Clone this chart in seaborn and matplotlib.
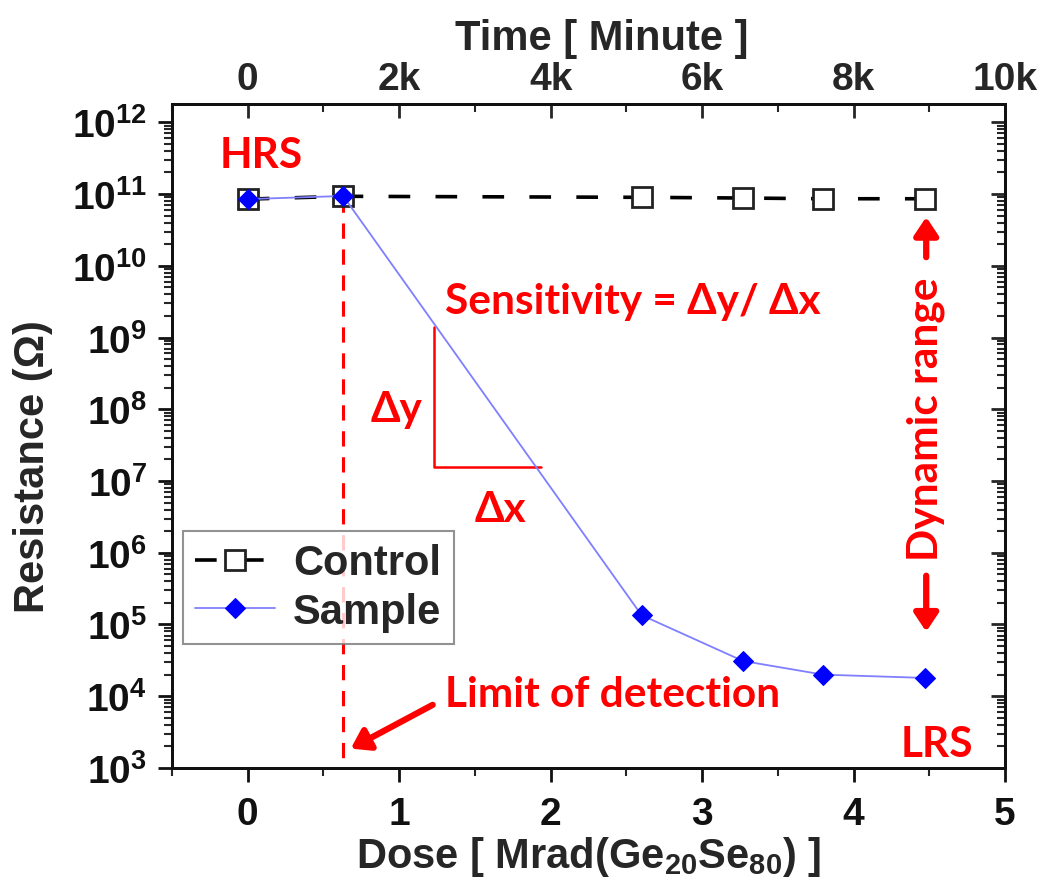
import numpy as np
import pandas as pd
import matplotlib
matplotlib.use("Agg")
import matplotlib.pyplot as plt
import matplotlib.ticker as mticker
import seaborn as sns

# ---- data ----
control_dose = [0, 0.63, 2.6, 3.27, 3.8, 4.47]
control_res = [8.5e10, 9.3e10, 9.0e10, 8.8e10, 8.6e10, 8.6e10]
sample_dose = [0, 0.63, 2.6, 3.27, 3.8, 4.47]
sample_res = [8.5e10, 9.4e10, 1.35e5, 3.1e4, 2.0e4, 1.8e4]
bottom_ticks = [0, 1, 2, 3, 4, 5]
top_ticks = [0, 2000, 4000, 6000, 8000, 10000]
top_labels = ["0", "2k", "4k", "6k", "8k", "10k"]

sns.set_theme(style="ticks")
plt.rcParams["font.family"] = ["Liberation Sans", "DejaVu Sans"]
plt.rcParams["font.weight"] = "bold"
plt.rcParams["mathtext.fontset"] = "custom"
plt.rcParams["mathtext.rm"] = "Liberation Sans:bold"
plt.rcParams["mathtext.bf"] = "Liberation Sans:bold"
plt.rcParams["mathtext.it"] = "Liberation Sans:bold:italic"
plt.rcParams["mathtext.sf"] = "Liberation Sans:bold"

TFS = 28   # tick labels
LFS = 30   # axis labels / legend
RFS = 30.5 # red annotations
RED = "#ff0000"
RFONT = ["Lato", "Open Sans", "DejaVu Sans"]

fig = plt.figure(figsize=(10.44, 8.95), dpi=100)
ax = fig.add_axes([0.1648, 0.1408, 0.7978, 0.7419])

cdf = pd.DataFrame({"dose": control_dose, "res": control_res})
sdf = pd.DataFrame({"dose": sample_dose, "res": sample_res})

sns.lineplot(data=cdf, x="dose", y="res", ax=ax, color="black", lw=2.6,
             marker="s", markersize=15, markerfacecolor="white",
             markeredgecolor="#222222", markeredgewidth=2, label="Control",
             zorder=3)
ax.lines[-1].set_dashes((6, 7))
sns.lineplot(data=sdf, x="dose", y="res", ax=ax, color="#7f7fff", lw=1.3,
             marker="D", markersize=10, markerfacecolor="#0000ff",
             markeredgecolor="#0000ff", label="Sample", zorder=4)

ax.set_yscale("log")
ax.set_xlim(-0.5, 5.0)
ax.set_ylim(1e3, 1.8e12)

for s in ax.spines.values():
    s.set_linewidth(2)
    s.set_color("#111111")

ax.xaxis.set_major_locator(mticker.FixedLocator(bottom_ticks))
ax.xaxis.set_minor_locator(mticker.MultipleLocator(0.5))
ax.yaxis.set_major_locator(mticker.LogLocator(base=10, numticks=20))
ax.yaxis.set_minor_locator(mticker.LogLocator(base=10, subs=np.arange(2, 10), numticks=20))
ax.yaxis.set_minor_formatter(mticker.NullFormatter())
ax.tick_params(axis="both", which="major", direction="out", length=10, width=2,
               labelsize=TFS, colors="#111111")
ax.tick_params(axis="both", which="minor", direction="out", length=6, width=1.5)
ax.tick_params(axis="x", which="major", pad=10)
ax.tick_params(axis="y", which="major", pad=8)
for lab in ax.get_xticklabels() + ax.get_yticklabels():
    lab.set_fontweight("bold")

ax.set_xlabel("Dose [ Mrad(Ge$_{20}$Se$_{80}$) ]", fontsize=LFS, fontweight="bold")
ax.xaxis.set_label_coords(0.5, -0.100)
ax.set_ylabel("Resistance (Ω)", fontsize=LFS, fontweight="bold")
ax.yaxis.set_label_coords(-0.143, 0.456)

# right axis (inward ticks)
axr = ax.twinx()
axr.set_yscale("log")
axr.set_ylim(ax.get_ylim())
axr.yaxis.set_major_locator(mticker.LogLocator(base=10, numticks=20))
axr.yaxis.set_minor_locator(mticker.LogLocator(base=10, subs=np.arange(2, 10), numticks=20))
axr.tick_params(axis="y", which="major", direction="in", length=10, width=2, labelright=False)
axr.tick_params(axis="y", which="minor", direction="in", length=6, width=1.5)
axr.yaxis.set_major_formatter(mticker.NullFormatter())
axr.yaxis.set_minor_formatter(mticker.NullFormatter())
axr.set_ylabel("")
axr.yaxis.label.set_visible(False)
axr.xaxis.label.set_visible(False)

# top axis (time)
axt = ax.twiny()
axt.set_xlim(-1000, 10000)
axt.xaxis.set_major_locator(mticker.FixedLocator(top_ticks))
axt.xaxis.set_major_formatter(mticker.FixedFormatter(top_labels))
axt.xaxis.set_minor_locator(mticker.MultipleLocator(1000))
axt.tick_params(axis="x", which="major", direction="in", length=10, width=2,
                labelsize=TFS, pad=5)
axt.tick_params(axis="x", which="minor", direction="in", length=6, width=1.5)
for lab in axt.get_xticklabels():
    lab.set_fontweight("bold")
axt.set_xlabel("Time [ Minute ]", fontsize=LFS, fontweight="bold")
axt.xaxis.set_label_coords(0.516, 1.083)
axt.yaxis.label.set_visible(False)
for a in (axr, axt):
    for s in a.spines.values():
        s.set_linewidth(2)
        s.set_color("#111111")

# legend
leg = ax.legend(loc="upper left", bbox_to_anchor=(0.013, 0.357), borderaxespad=0,
                fontsize=LFS, frameon=True, fancybox=False, handlelength=1.9,
                handletextpad=0.45, borderpad=0.3, labelspacing=0.2)
leg.get_frame().set_edgecolor("#777777")
leg.get_frame().set_linewidth(1.5)
for t in leg.get_texts():
    t.set_fontweight("bold")

# annotations
ax.plot([0.63, 0.63], [9.0e10, 1e3], color=RED, lw=2.2, dashes=(5, 3.5), zorder=2)
ax.plot([1.228, 1.228, 1.934], [1.4e9, 1.57e7, 1.57e7], color=RED, lw=1.8, zorder=2)

tkw = dict(color=RED, fontweight="bold", family=RFONT, fontsize=RFS)
ax.text(0.086, 10**11.55, "HRS", ha="center", va="center", **tkw)
ax.text(1.3, 10**9.51, "Sensitivity = Δy/ Δx", ha="left", va="center", **tkw)
ax.text(0.98, 10**8.0, "Δy", ha="center", va="center", **tkw)
ax.text(1.67, 10**6.61, "Δx", ha="center", va="center", **tkw)
ax.text(1.3, 10**4.03, "Limit of detection", ha="left", va="center", **tkw)
ax.text(4.55, 10**3.34, "LRS", ha="center", va="center", **tkw)
ax.text(4.48, 10**7.88, "Dynamic range", ha="center", va="center", rotation=90, **tkw)

akw = dict(arrowstyle="-|>,head_length=0.9,head_width=0.6", lw=4.5, color=RED,
           shrinkA=0, shrinkB=0)
ax.annotate("", xy=(0.68, 10**3.27), xytext=(1.221, 10**3.88), arrowprops=akw)
ax.annotate("", xy=(4.48, 10**10.68), xytext=(4.48, 10**10.12), arrowprops=akw)
ax.annotate("", xy=(4.48, 10**4.90), xytext=(4.48, 10**5.68), arrowprops=akw)

fig.savefig("out.png", dpi=100)
